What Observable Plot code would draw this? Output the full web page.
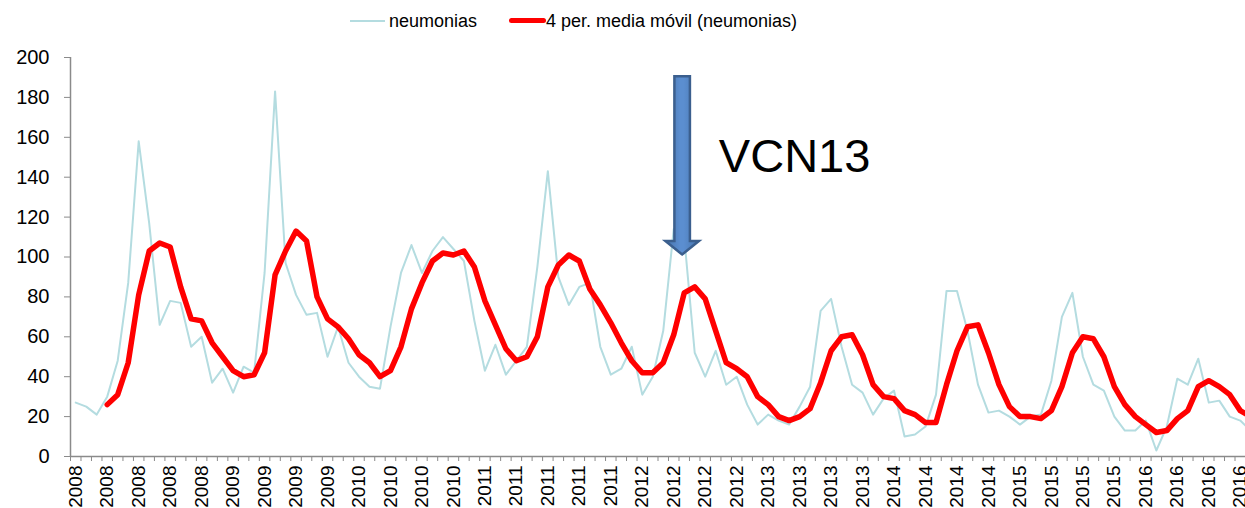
<!DOCTYPE html>
<html>
<head>
<meta charset="utf-8">
<script src="https://cdn.jsdelivr.net/npm/d3@7"></script>
<script src="https://cdn.jsdelivr.net/npm/@observablehq/plot@0.6"></script>
<style>
  body { margin: 0; background: #fff; font-family: "Liberation Sans", Arial, sans-serif; }
  #wrap { position: relative; width: 1245px; }
  #legend { position: relative; height: 40px; font-size: 18px; color: #000; }
  #legend .sw { position: absolute; }
  #legend .lb { position: absolute; top: 10px; line-height: 22px; white-space: nowrap; }
</style>
</head>
<body>
<div id="wrap">
  <div id="legend">
    <span class="sw" style="left:350px;top:20px;width:35px;height:2px;background:#B4DCE0"></span>
    <span class="lb" style="left:389px">neumonias</span>
    <span class="sw" style="left:509px;top:18px;width:37px;height:5px;background:#FF0000;border-radius:3px"></span>
    <span class="lb" style="left:546px">4 per. media móvil (neumonias)</span>
  </div>
  <div id="chart"></div>
</div>
<script>
// Category axis labels (one label every 3 periods)
const tickLabels = [
  "2008","2008","2008","2008","2008",
  "2009","2009","2009","2009",
  "2010","2010","2010","2010",
  "2011","2011","2011","2011","2011",
  "2012","2012","2012","2012",
  "2013","2013","2013","2013",
  "2014","2014","2014","2014",
  "2015","2015","2015","2015",
  "2016","2016","2016","2016"
];

// neumonias per period
const neumonias = [
  27,25,21,30,48,87,158,117,66,78,
  77,55,60,37,44,32,45,42,92,183,
  97,81,71,72,50,65,47,40,35,34,
  65,92,106,92,103,110,104,98,68,43,
  56,41,48,55,95,143,90,76,85,87,
  55,41,44,55,31,40,63,114,110,52,
  40,53,36,40,26,16,21,18,16,25,
  35,73,79,55,36,32,21,29,33,10,
  11,15,31,83,83,63,36,22,23,20,
  16,20,21,38,70,82,50,36,33,20,
  13,13,18,3,15,39,36,49,27,28,
  20,18,13
];

// 4 per. media móvil (neumonias)
const mediaMovil = [
  null,null,null,26,31,47,81,103,107,105,
  85,69,68,57,50,43,40,41,52,91,
  103,113,108,80,69,65,59,51,47,40,
  43,55,74,87,98,102,101,103,95,78,
  66,54,48,50,60,85,96,101,98,84,
  76,67,57,48,42,42,47,61,82,85,
  79,63,47,44,40,30,26,20,18,20,
  24,37,53,60,61,51,36,30,29,23,
  21,17,17,36,53,65,66,52,36,25,
  20,20,19,23,35,52,60,59,50,35,
  26,20,16,12,13,19,23,35,38,35,
  31,23,20
];

// Annotation
const arrow = { x: 57.85, top: 190.4, headBase: 107.8, tip: 101, shaftHalf: 0.74, headHalf: 1.6 };
const annotation = [{ x: 61.3, y: 150, text: "VCN13" }];

const nCats = 112;
const axisGray = "#8A8A8A";

const cyanData = neumonias.map((v, i) => ({ i, v }));
const redData = mediaMovil.map((v, i) => ({ i, v }));

function arrowMark(index, scales) {
  const x = scales.x, y = scales.y;
  const cx = x(arrow.x);
  const top = y(arrow.top), base = y(arrow.headBase), tip = y(arrow.tip);
  const sw = Math.abs(x(arrow.x + arrow.shaftHalf) - cx);
  const hw = Math.abs(x(arrow.x + arrow.headHalf) - cx);
  const g = d3.create("svg:g");
  const grad = g.append("defs").append("linearGradient")
    .attr("id", "arrowGrad").attr("x1", "0").attr("x2", "1").attr("y1", "0").attr("y2", "0");
  grad.append("stop").attr("offset", "0").attr("stop-color", "#4774AC");
  grad.append("stop").attr("offset", "0.45").attr("stop-color", "#5B8ED0");
  grad.append("stop").attr("offset", "0.55").attr("stop-color", "#5B8ED0");
  grad.append("stop").attr("offset", "1").attr("stop-color", "#4774AC");
  g.append("path")
    .attr("d", `M${cx - sw},${top}L${cx + sw},${top}L${cx + sw},${base}L${cx + hw},${base}L${cx},${tip}L${cx - hw},${base}L${cx - sw},${base}Z`)
    .attr("fill", "url(#arrowGrad)")
    .attr("stroke", "#3B5F8E")
    .attr("stroke-width", 2.5)
    .attr("stroke-linejoin", "miter");
  return g.node();
}

const chart = Plot.plot({
  width: 1245,
  height: 468,
  marginLeft: 70,
  marginRight: 0,
  marginTop: 17,
  marginBottom: 52,
  style: { fontFamily: "Liberation Sans, Arial, sans-serif", fontSize: "20px", color: "#000", background: "#fff" },
  x: { type: "linear", domain: [-0.5, nCats - 0.5] },
  y: { domain: [0, 200] },
  marks: [
    Plot.axisY({ ticks: d3.range(0, 201, 20), tickSize: 6, tickPadding: 15, stroke: axisGray, fontSize: 20, label: null, tickFormat: d3.format("d") }),
    Plot.axisX({ ticks: d3.range(0, nCats + 1).map(k => k - 0.5), tickSize: 5, tickFormat: () => "", stroke: axisGray, label: null }),
    Plot.axisX({ ticks: tickLabels.map((_, k) => k * 3), tickSize: 0, tickPadding: 9, tickRotate: -90, fontSize: 19, label: null,
                 tickFormat: d => tickLabels[Math.round(d / 3)] }),
    Plot.ruleX([-0.5], { y1: 0, y2: 200, stroke: axisGray, strokeWidth: 1.5 }),
    Plot.ruleY([0], { stroke: axisGray, strokeWidth: 1.5 }),
    Plot.line(cyanData, { x: "i", y: "v", stroke: "#B4DCE0", strokeWidth: 2, clip: true }),
    Plot.line(redData, { x: "i", y: "v", stroke: "#FF0000", strokeWidth: 5.5, strokeLinejoin: "round", strokeLinecap: "round", clip: true, defined: d => d.v != null }),
    arrowMark,
    Plot.text(annotation, { x: "x", y: "y", text: "text", textAnchor: "start", lineAnchor: "middle", fontSize: 47, fill: "#000" })
  ]
});
document.getElementById("chart").appendChild(chart);
</script>
</body>
</html>
